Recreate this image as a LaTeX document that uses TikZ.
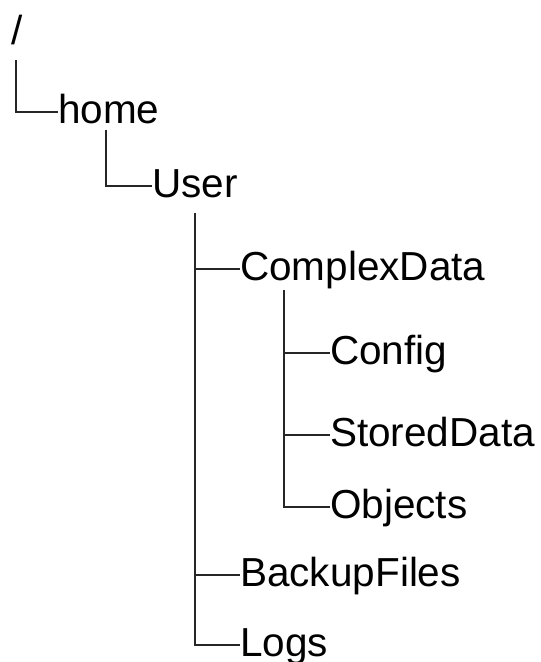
\documentclass[tikz,border=0pt]{standalone}
\usepackage{fontspec}
\setmainfont{Liberation Sans}
\begin{document}
\begin{tikzpicture}[x=1pt,y=-1pt,
  entry/.style={anchor=west,inner sep=0pt,text height=28pt,text depth=6pt,
    font=\fontsize{40.5}{48}\selectfont,text=black},
  branch/.style={line width=2pt,draw=black!85,line cap=butt}]
\useasboundingbox (0,0) rectangle (541,662);

% directory entries (west anchor sits at connector height)
\node[entry] (root)    at (11,33)   {/};
\node[entry] (home)    at (58,112)  {home};
\node[entry] (user)    at (152,186) {User};
\node[entry] (complex) at (240,269) {ComplexData};
\node[entry] (config)  at (330,353) {Config};
\node[entry] (stored)  at (330,435) {StoredData};
\node[entry] (objects) at (330,507) {Objects};
\node[entry] (backup)  at (240,575) {BackupFiles};
\node[entry] (logs)    at (240,645) {Logs};

% tops of the vertical guide lines
\coordinate (t0) at (16,60);
\coordinate (t1) at (106,130);
\coordinate (t2) at (195,213);
\coordinate (t3) at (284,290);

\draw[branch] (t0) |- (home.west);
\draw[branch] (t1) |- (user.west);
\draw[branch] (t2) |- (logs.west);
\draw[branch] (t2 |- complex.west) -- (complex.west);
\draw[branch] (t2 |- backup.west) -- (backup.west);
\draw[branch] (t3) |- (objects.west);
\draw[branch] (t3 |- config.west) -- (config.west);
\draw[branch] (t3 |- stored.west) -- (stored.west);
\end{tikzpicture}
\end{document}
